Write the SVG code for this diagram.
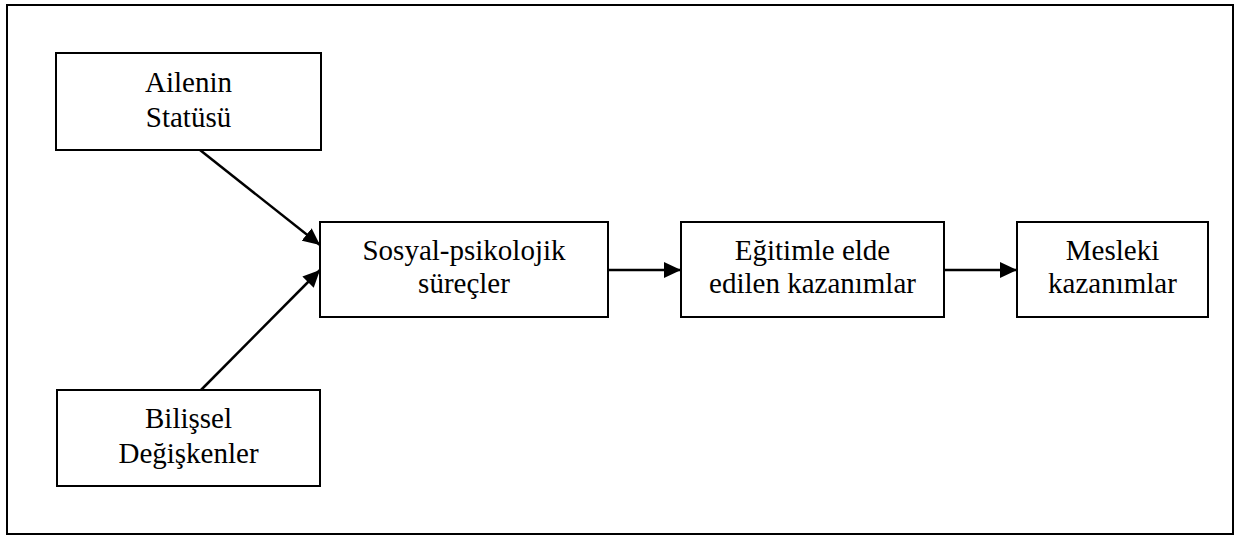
<svg xmlns="http://www.w3.org/2000/svg" width="1246" height="536" viewBox="0 0 1246 536">
<style>
.box{fill:#fff;stroke:#000;stroke-width:2}
.frame{fill:none;stroke:#000;stroke-width:2}
.lbl{font-family:'Liberation Serif',Tinos,'Times New Roman',Times,'Nimbus Roman','DejaVu Serif','Noto Serif',serif;font-size:29px;fill:#000;text-anchor:middle}
.conn{stroke:#000;stroke-width:2.5;fill:none;marker-end:url(#ah)}
</style>
<defs>
<marker id="ah" markerUnits="userSpaceOnUse" markerWidth="18" markerHeight="16" refX="17" refY="8" orient="auto">
<path d="M0,0 L17,8 L0,16 Z" fill="#000"/>
</marker>
</defs>
<rect class="frame" x="7" y="5" width="1226" height="529"/>
<g id="connectors">
<line class="conn" x1="200" y1="150" x2="320" y2="245"/>
<line class="conn" x1="201" y1="390" x2="320" y2="270"/>
<line class="conn" x1="608" y1="270" x2="681" y2="270"/>
<line class="conn" x1="944" y1="270" x2="1017" y2="270"/>
</g>
<g id="ailenin">
<rect class="box" x="56" y="53" width="265" height="97"/>
<text class="lbl" x="188.5" y="92" font-family="Liberation Serif, serif">Ailenin</text>
<text class="lbl" x="188.5" y="127">Statüsü</text>
</g>
<g id="bilissel">
<rect class="box" x="57" y="390" width="263" height="96"/>
<text class="lbl" x="188.5" y="428">Bilişsel</text>
<text class="lbl" x="188.5" y="463">Değişkenler</text>
</g>
<g id="sosyal">
<rect class="box" x="320" y="222" width="288" height="95"/>
<text class="lbl" x="464" y="260">Sosyal-psikolojik</text>
<text class="lbl" x="464" y="293">süreçler</text>
</g>
<g id="egitim">
<rect class="box" x="681" y="222" width="263" height="95"/>
<text class="lbl" x="812.5" y="260">Eğitimle elde</text>
<text class="lbl" x="812.5" y="293">edilen kazanımlar</text>
</g>
<g id="mesleki">
<rect class="box" x="1017" y="222" width="191" height="95"/>
<text class="lbl" x="1112.5" y="260">Mesleki</text>
<text class="lbl" x="1112.5" y="293">kazanımlar</text>
</g>
</svg>
